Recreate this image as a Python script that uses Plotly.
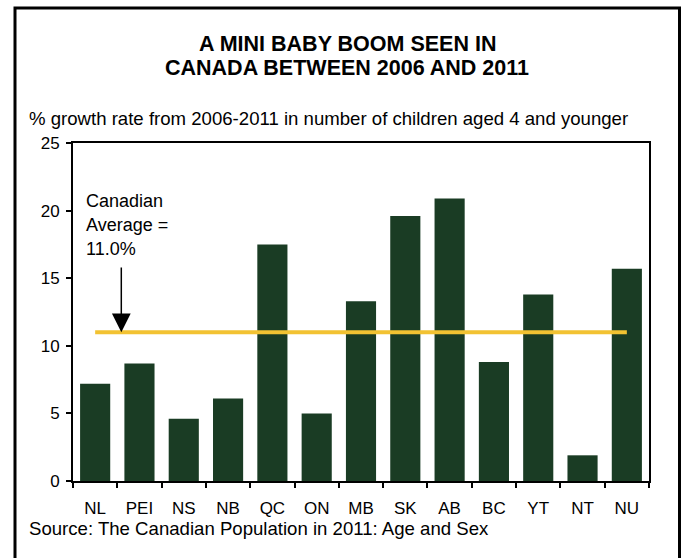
import plotly.graph_objects as go

provinces = ["NL", "PEI", "NS", "NB", "QC", "ON", "MB", "SK", "AB", "BC", "YT", "NT", "NU"]
growth = [7.2, 8.7, 4.6, 6.1, 17.5, 5.0, 13.3, 19.6, 20.9, 8.8, 13.8, 1.9, 15.7]
canadian_average = 11.0
y_ticks = [0, 5, 10, 15, 20, 25]

FONT = "Liberation Sans, Arial, sans-serif"
BAR_COLOR = "#1A3C24"
LINE_COLOR = "#F2C232"

fig = go.Figure()
fig.add_trace(go.Bar(x=provinces, y=growth, marker=dict(color=BAR_COLOR, line=dict(width=0)),
                     showlegend=False, hoverinfo="x+y"))
fig.add_trace(go.Scatter(x=provinces, y=[canadian_average] * len(provinces), mode="lines",
                         line=dict(color=LINE_COLOR, width=4), showlegend=False))

W, H = 681, 558
L, R, T, B = 73, 32, 143, 77
pw, ph = W - L - R, H - T - B


def px_to_paper_x(px):
    return (px - L) / pw


def px_to_paper_y(py):
    return (H - B - py) / ph


annotations = [
    dict(text="<b>A MINI BABY BOOM SEEN IN</b>", x=px_to_paper_x(347), y=px_to_paper_y(43.5),
         xref="paper", yref="paper", showarrow=False, xanchor="center", yanchor="middle",
         font=dict(size=21.5, color="black", family=FONT)),
    dict(text="<b>CANADA BETWEEN 2006 AND 2011</b>", x=px_to_paper_x(347), y=px_to_paper_y(68),
         xref="paper", yref="paper", showarrow=False, xanchor="center", yanchor="middle",
         font=dict(size=21.5, color="black", family=FONT)),
    dict(text="% growth rate from 2006-2011 in number of children aged 4 and younger",
         x=px_to_paper_x(27), y=px_to_paper_y(118.5), xref="paper", yref="paper", showarrow=False,
         xanchor="left", yanchor="middle", font=dict(size=18.6, color="black", family=FONT)),
    dict(text="Source: The Canadian Population in 2011: Age and Sex",
         x=px_to_paper_x(27), y=px_to_paper_y(528.5), xref="paper", yref="paper", showarrow=False,
         xanchor="left", yanchor="middle", font=dict(size=18.6, color="black", family=FONT)),
]
for i, line in enumerate(["Canadian", "Average =", f"{canadian_average:.1f}%"]):
    annotations.append(dict(text=line, x=px_to_paper_x(84), y=px_to_paper_y(200.5 + 24 * i),
                            xref="paper", yref="paper", showarrow=False, xanchor="left",
                            yanchor="middle", font=dict(size=18, color="black", family=FONT)))
# arrow pointing at the average line
annotations.append(dict(text="", x=0.59, y=canadian_average, xref="x", yref="y",
                        ax=0.59, ay=15.9, axref="x", ayref="y", showarrow=True,
                        arrowhead=2, arrowsize=2.5, arrowwidth=1.5, arrowcolor="black"))

shapes = [dict(type="rect", xref="paper", yref="paper",
               x0=px_to_paper_x(15), x1=px_to_paper_x(679.5),
               y0=px_to_paper_y(8), y1=px_to_paper_y(575),
               line=dict(color="black", width=3), fillcolor="rgba(0,0,0,0)", layer="above")]

fig.update_layout(
    width=W, height=H, margin=dict(l=L, r=R, t=T, b=B, autoexpand=False),
    paper_bgcolor="white", plot_bgcolor="white",
    font=dict(family=FONT, size=17, color="black"),
    bargap=0.32, showlegend=False,
    annotations=annotations, shapes=shapes,
    xaxis=dict(type="category", showline=True, linecolor="black", linewidth=2, mirror=True,
               ticks="outside", tickson="boundaries", ticklen=5, tickwidth=2, tickcolor="black",
               showgrid=False, tickfont=dict(size=17, family=FONT), ticklabelstandoff=11),
    yaxis=dict(range=[0, 25], tickvals=y_ticks, showline=True, linecolor="black", linewidth=2,
               mirror=True, ticks="outside", ticklen=5, tickwidth=2, tickcolor="black",
               showgrid=False, zeroline=False, tickfont=dict(size=17, family=FONT),
               ticklabelstandoff=3),
)

fig.write_html("out.html", config={"displayModeBar": False},
               post_script="document.body.style.margin='0';")
